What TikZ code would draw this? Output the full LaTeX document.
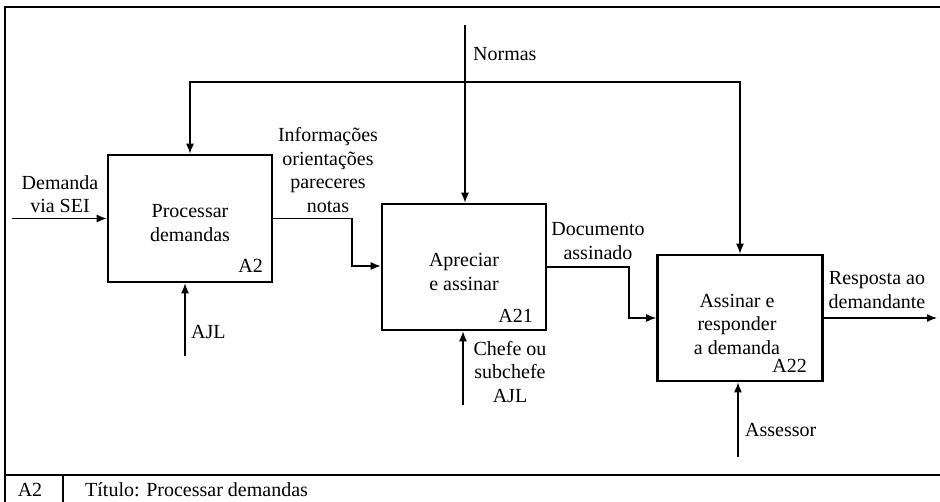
\documentclass[tikz,border=0pt]{standalone}
\usepackage{fontspec}
\setmainfont{Liberation Serif}
\usetikzlibrary{arrows.meta}
\begin{document}
\begin{tikzpicture}[x=1pt,y=-1pt,
  every node/.style={font=\fontsize{20}{23.5}\selectfont, inner sep=0pt},
  actbox/.style={draw, line width=2.6pt, inner sep=0pt},
  flow/.style={line width=1.3pt, -{Latex[length=10pt,width=8pt]}},
  lbl/.style={align=center},
  frameline/.style={line width=1.3pt}]
\useasboundingbox (0,0) rectangle (940,502);

% outer frame and title strip
\draw[frameline] (940,7) -- (5,7) -- (5,502);
\draw[frameline] (5,475) -- (940,475);
\draw[frameline] (63,475) -- (63,502);
\node (fnum) at (30,490) {A2};
\node[anchor=west] (ftitle) at (85,490) {Título: Processar demandas};

% activity boxes
\node[actbox, minimum width=164pt, minimum height=127pt] (a2)  at (190,218.5) {};
\node[actbox, minimum width=164pt, minimum height=126pt] (a21) at (464,267) {};
\node[actbox, minimum width=165pt, minimum height=126pt] (a22) at (740,318) {};

\node[lbl] (a2t)  at (190,223) {Processar\\demandas};
\node[lbl] (a21t) at (464,272) {Apreciar\\e assinar};
\node[lbl] (a22t) at (737,324) {Assinar e\\responder\\a demanda};

\node[anchor=base east] (a2n)  at (263,273) {A2};
\node[anchor=base east] (a21n) at (533,323) {A21};
\node[anchor=base east] (a22n) at (807,373) {A22};

% connector points
\coordinate (demIn) at (12,218.5);
\coordinate (normTop) at (465,25);
\coordinate (nj) at (465,82);
\coordinate (jl) at (190,82);
\coordinate (jr) at (740,82);
\coordinate (j1) at (352,266);
\coordinate (j2) at (629,318);
\coordinate (resp) at (937,318);
\coordinate (ajl) at (185,356);
\coordinate (chefe) at (463,405);
\coordinate (assessor) at (738,457);

% inputs and outputs
\draw[flow] (demIn) -- (a2.west);
\draw[flow] (a2.east) -| (j1) -- (j1 -| a21.west);
\draw[flow] (a21.east) -| (j2) -- (j2 -| a22.west);
\draw[flow] (a22.east) -- (resp);

% controls
\draw[flow] (normTop) -- (normTop |- a21.north);
\draw[flow] (nj) -- (jl) -- (jl |- a2.north);
\draw[flow] (nj) -- (jr) -- (jr |- a22.north);

% mechanisms
\draw[flow] (ajl) -- (ajl |- a2.south);
\draw[flow] (chefe) -- (chefe |- a21.south);
\draw[flow] (assessor) -- (assessor |- a22.south);

% labels
\node[lbl] (ldem) at (60,194) {Demanda\\via SEI};
\node[lbl] (linfo) at (328,170) {Informações\\orientações\\pareceres\\notas};
\node[anchor=west] (lnorm) at (473,54) {Normas};
\node[lbl] (ldoc) at (598,241) {Documento\\assinado};
\node[lbl] (lresp) at (877,290) {Resposta ao\\demandante};
\node[anchor=west] (lajl) at (191,332) {AJL};
\node[lbl] (lchefe) at (510,372) {Chefe ou\\subchefe\\AJL};
\node[anchor=west] (lass) at (745,430) {Assessor};
\end{tikzpicture}
\end{document}
